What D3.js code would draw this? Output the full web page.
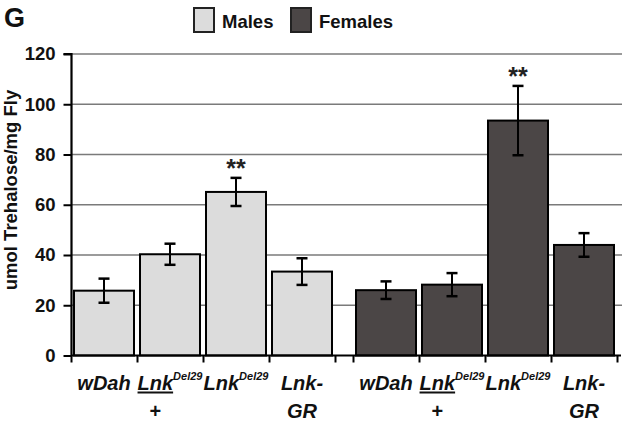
<!DOCTYPE html>
<meta charset="utf-8">
<script src="https://d3js.org/d3.v7.min.js"></script>
<style>
  body { margin: 0; background: #fff; }
  text { font-family: "Liberation Sans", Arial, sans-serif; font-weight: bold; }
</style>
<div id="chart"></div>
<script>

// data
var genotypes = ["wDah", "Lnk/+", "LnkDel29", "Lnk-GR"];
var males = [25.8, 40.3, 65.1, 33.4];
var malesErr = [4.8, 4.2, 5.6, 5.3];
var females = [26.0, 28.2, 93.5, 44.0];
var femalesErr = [3.5, 4.6, 13.8, 4.7];
var starred = [false, false, true, false];
var yTicks = [0, 20, 40, 60, 80, 100, 120];

// tick label pieces
var labelMain = ["wDah", "Lnk", "Lnk", "Lnk-"];
var labelSup = ["", "Del29", "Del29", ""];
var labelUnder = [false, true, false, false];
var labelLine2 = ["", "+", "", "GR"];

var W = 622, H = 423;
var gap = 18 / 66;   // space between the two sexes, in bar slots

var svg = d3.select("#chart").append("svg")
    .attr("width", W)
    .attr("height", H);

var x = d3.scaleLinear().domain([0, 8 + gap]).range([71, 617]);
var y = d3.scaleLinear().domain([0, 120]).range([355.5, 54]);

// one row per bar
var bars = [];
genotypes.forEach(function(g, i) {
  bars.push({sex: "M", i: i, slot: i, v: males[i], e: malesErr[i], star: starred[i]});
});
genotypes.forEach(function(g, i) {
  bars.push({sex: "F", i: i, slot: 4 + gap + i, v: females[i], e: femalesErr[i], star: starred[i]});
});

var fill = {M: "#dcdcdc", F: "#4b4646"};

// gridlines
svg.append("g")
  .selectAll("line")
  .data(yTicks.filter(function(t) { return t > 0; }))
  .enter().append("line")
    .attr("x1", 72).attr("x2", W)
    .attr("y1", function(d) { return y(d); })
    .attr("y2", function(d) { return y(d); })
    .attr("stroke", "#7a7a7a")
    .attr("stroke-width", 1.5);

// bars
svg.append("g")
  .selectAll("rect")
  .data(bars)
  .enter().append("rect")
    .attr("x", function(d) { return x(d.slot) + 3; })
    .attr("width", function(d) { return x(d.slot + 1) - x(d.slot) - 6; })
    .attr("y", function(d) { return y(d.v); })
    .attr("height", function(d) { return y(0) - y(d.v); })
    .attr("fill", function(d) { return fill[d.sex]; })
    .attr("stroke", "#000")
    .attr("stroke-width", 2);

// error bars
var err = svg.append("g").attr("stroke", "#000");
bars.forEach(function(d) {
  var cx = x(d.slot + 0.5);
  err.append("line")
    .attr("x1", cx).attr("x2", cx)
    .attr("y1", y(d.v + d.e)).attr("y2", y(d.v - d.e))
    .attr("stroke-width", 2);
  [d.v + d.e, d.v - d.e].forEach(function(v) {
    err.append("line")
      .attr("x1", cx - 5.5).attr("x2", cx + 5.5)
      .attr("y1", y(v)).attr("y2", y(v))
      .attr("stroke-width", 2.5);
  });
});

// significance stars
svg.append("g")
  .selectAll("text")
  .data(bars.filter(function(d) { return d.star; }))
  .enter().append("text")
    .attr("x", function(d) { return x(d.slot + 0.5); })
    .attr("y", function(d) { return y(d.v + d.e) - 1; })
    .attr("text-anchor", "middle")
    .attr("font-size", 25)
    .attr("fill", "#222")
    .text("**");

// y axis
var yAxis = svg.append("g")
    .attr("transform", "translate(71.5,0)")
    .call(d3.axisLeft(y).tickValues(yTicks).tickSize(8).tickPadding(8));
yAxis.select(".domain").attr("stroke-width", 2.2).attr("d", "M-8," + y(120) + "H0V" + y(0));
yAxis.selectAll(".tick line").attr("stroke-width", 2);
yAxis.selectAll(".tick text")
    .attr("font-size", 18.5)
    .attr("font-family", "Liberation Sans, Arial, sans-serif")
    .attr("font-weight", "bold")
    .attr("fill", "#111");

// x axis: ticks on the slot boundaries
var bounds = [0, 1, 2, 3, 4, 4 + gap, 5 + gap, 6 + gap, 7 + gap, 8 + gap];
var xAxis = svg.append("g")
    .attr("transform", "translate(0," + y(0) + ")")
    .call(d3.axisBottom(x).tickValues(bounds).tickSize(7).tickFormat(""));
xAxis.select(".domain").attr("stroke-width", 2.2).attr("d", "M71,0H" + (W - 1));
xAxis.selectAll(".tick line").attr("stroke-width", 2);

// x labels
var lab = svg.append("g").attr("fill", "#111").attr("font-style", "italic");
bars.forEach(function(d) {
  var cx = x(d.slot + 0.5);
  var t = lab.append("text")
    .attr("x", cx)
    .attr("y", 390)
    .attr("text-anchor", "middle")
    .attr("font-size", 20);
  t.append("tspan").text(labelMain[d.i]);
  if (labelSup[d.i]) {
    t.append("tspan").attr("dy", -10).attr("font-size", 11).text(labelSup[d.i]);
  }
  var n = labelMain[d.i].length;
  var x0 = t.node().getStartPositionOfChar(0).x;
  var x1 = t.node().getEndPositionOfChar(n - 1).x;
  if (labelUnder[d.i]) {
    lab.append("line")
      .attr("x1", x0).attr("x2", x1)
      .attr("y1", 392.5).attr("y2", 392.5)
      .attr("stroke", "#111").attr("stroke-width", 2);
  }
  if (labelLine2[d.i]) {
    var mid = labelLine2[d.i] === "+" ? (x0 + x1) / 2 : cx;
    lab.append("text")
      .attr("x", mid)
      .attr("y", 418)
      .attr("text-anchor", "middle")
      .attr("font-size", 20)
      .attr("font-style", labelLine2[d.i] === "+" ? "normal" : "italic")
      .text(labelLine2[d.i]);
  }
});

// y title
svg.append("text")
    .attr("transform", "translate(17,190) rotate(-90)")
    .attr("text-anchor", "middle")
    .attr("font-size", 18.5)
    .attr("fill", "#111")
    .text("umol Trehalose/mg Fly");

// panel letter
svg.append("text")
    .attr("x", 4).attr("y", 27)
    .attr("font-size", 27)
    .attr("fill", "#111")
    .text("G");

// legend
var legend = [{name: "Males", sex: "M", x: 194}, {name: "Females", sex: "F", x: 291}];
legend.forEach(function(l) {
  svg.append("rect")
    .attr("x", l.x).attr("y", 8)
    .attr("width", 20).attr("height", 24)
    .attr("fill", fill[l.sex])
    .attr("stroke", "#222").attr("stroke-width", 2);
  svg.append("text")
    .attr("x", l.x + 28).attr("y", 28)
    .attr("font-size", 18.5)
    .attr("fill", "#111")
    .text(l.name);
});

</script>
